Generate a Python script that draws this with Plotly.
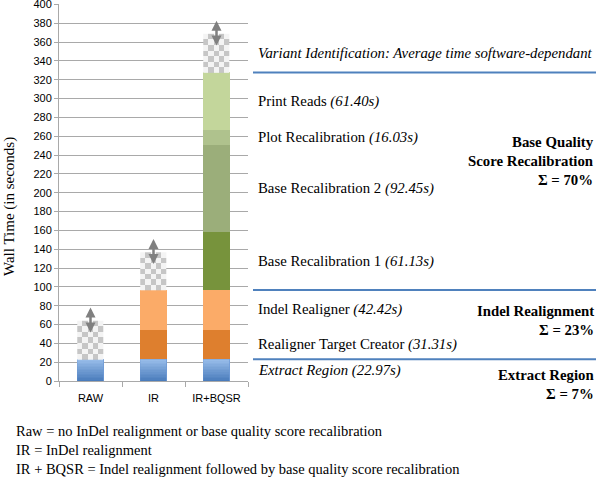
import plotly.graph_objects as go

# ---------------- data ----------------
categories = ["RAW", "IR", "IR+BQSR"]
steps = ["Extract Region", "Realigner Target Creator", "Indel Realigner",
         "Base Recalibration 1", "Base Recalibration 2", "Plot Recalibration", "Print Reads"]
step_times = [22.97, 31.31, 42.42, 61.13, 92.45, 16.03, 61.40]
steps_in_pipeline = [1, 3, 7]          # how many steps each pipeline runs
variant_time = [41, 40, 41]            # variant identification (software dependant, estimated)
variant_label = "Variant Identification: Average time software-dependant"
groups = ["Base Quality<br>Score Recalibration<br>Σ = 70%",
          "Indel Realignment<br>Σ = 23%",
          "Extract Region<br>Σ = 7%"]
group_bounds = [1, 3, 7]               # steps after which a blue separator is drawn
footnotes = ["Raw = no InDel realignment or base quality score recalibration",
             "IR = InDel realignment",
             "IR + BQSR = Indel realignment followed by base quality score recalibration"]

# ---------------- styles ----------------
step_colors = ["#6e9ad6", "#de7f2e", "#fbab68", "#77933c", "#9bae7a", "#afc28d", "#c3d69b"]
serif = "Liberation Serif"
sans = "Liberation Sans"
bar_w = 0.42
grid_c = "#a9a9a9"
PL, PR, PT, PB = 59, 248, 4, 381       # plot area in pixels
PW, PH = PR - PL, PB - PT


def px_x(p):
    return (p - PL) / PW


def px_y(p):
    return (PB - p) / PH


fig = go.Figure()

# stacked step bars
for i, (name, t) in enumerate(zip(steps, step_times)):
    fig.add_trace(go.Bar(
        x=categories,
        y=[t if i < n else None for n in steps_in_pipeline],
        name=name, marker=dict(color=step_colors[i], line=dict(width=0)),
        width=bar_w, showlegend=False, hoverinfo="skip"))

# vertical gradient overlay on the first (Extract Region) segment
ng = 14
for j in range(len(categories)):
    xe = [j - bar_w / 2, j + bar_w / 2]
    ye = [step_times[0] * r / ng for r in range(ng + 1)]
    z = [[r / (ng - 1)] for r in range(ng)]
    fig.add_trace(go.Heatmap(
        x=xe, y=ye, z=z, xaxis="x2", yaxis="y",
        colorscale=[[0, "#4a7cbc"], [1, "#96bbe8"]], zmin=0, zmax=1,
        showscale=False, hoverinfo="skip"))

# checkerboard "variant identification" block on top of each bar
tops = []
for j, cat in enumerate(categories):
    base = sum(step_times[:steps_in_pipeline[j]])
    vt = variant_time[j]
    tops.append(base + vt)
    ncol, nrow = 5, 7
    xe = [j - bar_w / 2 + k * bar_w / ncol for k in range(ncol + 1)]
    ye = [base + r * vt / nrow for r in range(nrow + 1)]
    z = [[1 - (r + c) % 2 for c in range(ncol)] for r in range(nrow)]
    fig.add_trace(go.Heatmap(
        x=xe, y=ye, z=z, xaxis="x2", yaxis="y",
        colorscale=[[0, "#c6c6c6"], [1, "#f4f4f4"]], zmin=0, zmax=1,
        showscale=False, hoverinfo="skip"))

# double-headed arrows at the top of each bar
for j, cat in enumerate(categories):
    fig.add_annotation(x=cat, y=tops[j] + 14, ax=cat, ay=tops[j] - 14,
                       xref="x", yref="y", axref="x", ayref="y",
                       text="", showarrow=True, arrowside="end+start",
                       arrowhead=2, arrowsize=0.8, arrowwidth=2.5, arrowcolor="#808080")

# right-hand step labels
cum = [sum(step_times[:i]) for i in range(len(step_times) + 1)]
x_lab = px_x(256)
lab_font = dict(family=serif, size=14.8, color="black")
for i, (name, t) in enumerate(zip(steps, step_times)):
    mid = (cum[i] + cum[i + 1]) / 2
    txt = f"{name} <i>({t:.2f}s)</i>"
    if i == 0:
        txt = f"<i>{name} ({t:.2f}s)</i>"
    fig.add_annotation(x=x_lab, y=mid, xref="paper", yref="y", text=txt,
                       showarrow=False, xanchor="left", yanchor="middle", font=lab_font)
fig.add_annotation(x=x_lab, y=cum[-1] + variant_time[2] / 2, xref="paper", yref="y",
                   text=f"<i>{variant_label}</i>", showarrow=False,
                   xanchor="left", yanchor="middle", font=lab_font)

# blue separators
for b in group_bounds:
    fig.add_shape(type="line", xref="paper", yref="y",
                  x0=px_x(253), x1=px_x(596), y0=cum[b], y1=cum[b],
                  line=dict(color="#4f81bd", width=2))

# group labels (bold, right aligned)
for txt, yp in zip(groups, [161, 320.5, 384.5]):
    fig.add_annotation(x=px_x(596), y=px_y(yp), xref="paper", yref="paper",
                       text=f"<b>{txt}</b>", showarrow=False, align="right",
                       xanchor="right", yanchor="middle", font=lab_font)

# y axis title
fig.add_annotation(x=px_x(9), y=px_y(207), xref="paper", yref="paper",
                   text="Wall Time (in seconds)", textangle=-90, showarrow=False,
                   xanchor="center", yanchor="middle",
                   font=dict(family=serif, size=15, color="black"))

# footnotes
for k, line in enumerate(footnotes):
    fig.add_annotation(x=px_x(14), y=px_y(431 + 19 * k),
                       xref="paper", yref="paper", text=line, showarrow=False,
                       xanchor="left", yanchor="middle",
                       font=dict(family=serif, size=14.5, color="black"))

fig.update_layout(
    width=600, height=479,
    margin=dict(l=PL, r=600 - PR, t=PT, b=479 - PB, autoexpand=False),
    paper_bgcolor="white", plot_bgcolor="white",
    barmode="stack", showlegend=False,
    xaxis=dict(type="category", range=[-0.5, 2.5], tickson="boundaries", automargin=False,
               ticks="outside", ticklen=5, tickcolor=grid_c,
               showline=True, linecolor=grid_c, linewidth=1, ticklabelstandoff=7,
               showgrid=False, tickfont=dict(family=sans, size=11, color="black")),
    xaxis2=dict(overlaying="x", range=[-0.5, 2.5], visible=False),
    yaxis=dict(range=[0, 400.4], dtick=20, ticks="outside", ticklen=4, tickcolor=grid_c,
               showline=True, linecolor=grid_c, linewidth=1, ticklabeloverflow="allow",
               automargin=False,
               showgrid=True, gridcolor=grid_c, gridwidth=1, zeroline=False,
               tickfont=dict(family=sans, size=11, color="black")),
)

fig.write_html("out.html", config={"displayModeBar": False},
               post_script="document.body.style.margin='0';")
